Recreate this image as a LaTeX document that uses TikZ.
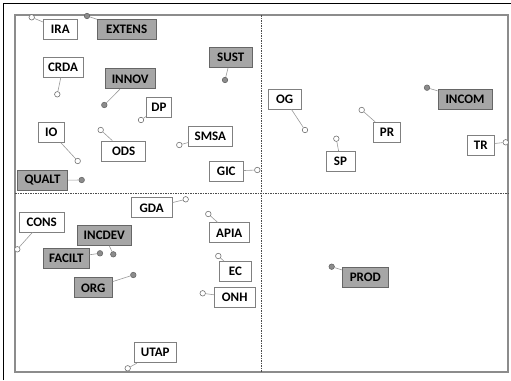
\documentclass[tikz,border=0pt]{standalone}
\usepackage{fontspec}
\setmainfont{Carlito}
\begin{document}
\begin{tikzpicture}[x=1pt,y=-1pt,
  box/.style={draw=black!50, fill=white, font=\bfseries\fontsize{13}{14}\selectfont, inner sep=0pt, line width=0.8pt, minimum height=20pt, text=black},
  gbox/.style={box, fill=black!35, draw=black!60},
  wdot/.style={circle, draw=black!55, fill=white, inner sep=0pt, minimum size=5.5pt, line width=0.6pt},
  gdot/.style={wdot, fill=black!45, draw=black!60},
  conn/.style={draw=black!40, line width=0.6pt},
  quad/.style={draw=black!70, line width=0.6pt, dash pattern=on 1.5pt off 1pt},
]
\useasboundingbox (0,0) rectangle (511,380);
\draw[black, line width=1pt] (3,380) -- (3,3) -- (511,3);
\draw[black!45, line width=1.3pt] (15,15) rectangle (508,372);
\draw[quad] (261.5,15) -- (261.5,372);
\draw[quad] (15,193) -- (508,193);

% boxes
\node[box,  minimum width=34pt]   (ira)    at (60.3,29.2)  {IRA};
\node[gbox, minimum width=58.7pt] (extens) at (126.7,29)   {EXTENS};
\node[box,  minimum width=40pt]   (crda)   at (63,67)      {CRDA};
\node[gbox, minimum width=50pt]   (innov)  at (130.2,78.8) {INNOV};
\node[gbox, minimum width=42.7pt] (sust)   at (230.7,57.5) {SUST};
\node[box,  minimum width=25pt]   (dp)     at (159,107.5)  {DP};
\node[box,  minimum width=26pt]   (io)     at (51.3,132.3) {IO};
\node[box,  minimum width=44pt]   (ods)    at (123.7,151)  {ODS};
\node[box,  minimum width=43.3pt] (smsa)   at (210.3,136.4){SMSA};
\node[box,  minimum width=34pt]   (gic)    at (226.3,171.2){GIC};
\node[gbox, minimum width=50.4pt] (qualt)  at (42.5,180.4) {QUALT};
\node[box,  minimum width=32.7pt] (og)     at (284.6,99)   {OG};
\node[box,  minimum width=27.4pt] (pr)     at (387,132.3)  {PR};
\node[box,  minimum width=29pt]   (sp)     at (340.5,161.3){SP};
\node[gbox, minimum width=54pt]   (incom)  at (465,99)     {INCOM};
\node[box,  minimum width=27.3pt] (tr)     at (480.7,145)  {TR};
\node[box,  minimum width=41.3pt] (gda)    at (151.7,207.8){GDA};
\node[box,  minimum width=45.3pt] (cons)   at (41.7,222)   {CONS};
\node[box,  minimum width=40pt]   (apia)   at (229.3,232.8){APIA};
\node[gbox, minimum width=54pt]   (incdev) at (104.3,235.4){INCDEV};
\node[gbox, minimum width=46pt]   (facilt) at (66.3,258)   {FACILT};
\node[box,  minimum width=32.4pt] (ec)     at (235.5,271.5){EC};
\node[gbox, minimum width=38.3pt] (org)    at (93.2,287.8) {ORG};
\node[box,  minimum width=40.7pt] (onh)    at (234.7,297.5){ONH};
\node[gbox, minimum width=46pt]   (prod)   at (365.3,277.3){PROD};
\node[box,  minimum width=41.7pt] (utap)   at (155.2,352.8){UTAP};

% dots
\node[wdot] (d-ira)    at (31.7,17.3)  {};
\node[gdot] (d-extens) at (87,16)      {};
\node[wdot] (d-crda)   at (57.3,94.3)  {};
\node[gdot] (d-innov)  at (104.3,105)  {};
\node[gdot] (d-sust)   at (225,80)     {};
\node[wdot] (d-dp)     at (141,120)    {};
\node[wdot] (d-io)     at (77.7,161)   {};
\node[wdot] (d-ods)    at (100.7,130)  {};
\node[wdot] (d-smsa)   at (179.3,145)  {};
\node[wdot] (d-gic)    at (257.3,170)  {};
\node[gdot] (d-qualt)  at (81.7,180)   {};
\node[wdot] (d-og)     at (305,130)    {};
\node[wdot] (d-pr)     at (361.7,110)  {};
\node[wdot] (d-sp)     at (336.3,138.7){};
\node[gdot] (d-incom)  at (427,87.7)   {};
\node[wdot] (d-tr)     at (505.7,142.3){};
\node[wdot] (d-gda)    at (185.7,199.3){};
\node[wdot] (d-cons)   at (17.3,249.3) {};
\node[wdot] (d-apia)   at (208.3,214)  {};
\node[gdot] (d-incdev) at (113.3,254.3){};
\node[gdot] (d-facilt) at (100,253.3)  {};
\node[wdot] (d-ec)     at (218.3,256)  {};
\node[gdot] (d-org)    at (133.3,275)  {};
\node[wdot] (d-onh)    at (202.7,293.3){};
\node[gdot] (d-prod)   at (331.7,266.7){};
\node[wdot] (d-utap)   at (127.7,368.3){};

% connectors
\foreach \n in {ira,extens,crda,innov,sust,dp,io,ods,smsa,gic,qualt,og,pr,sp,incom,tr,gda,cons,apia,incdev,facilt,ec,org,onh,prod,utap}
  \draw[conn] (d-\n) -- (\n);
\end{tikzpicture}
\end{document}
